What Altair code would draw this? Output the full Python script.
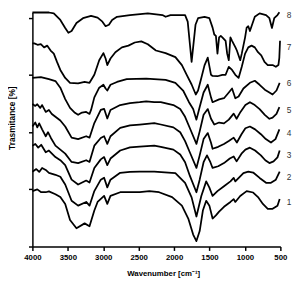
import altair as alt
import pandas as pd

# Wavenumbers (cm-1) and offset transmittance values
wn8 = [4000, 3767, 3698, 3606, 3537, 3492, 3447, 3378, 3286, 3172, 3080, 3012, 2967, 2920, 2875, 2806, 2623, 2371, 2165, 2120, 2051, 1845, 1808, 1777, 1753, 1731, 1698, 1662, 1571, 1502, 1457, 1433, 1410, 1388, 1365, 1341, 1319, 1273, 1251, 1228, 1205, 1182, 1136, 1114, 1067, 1045, 998, 976, 953, 930, 907, 861, 793, 702, 655, 619, 587, 541, 514]
t8 = [8.19, 8.19, 8.16, 7.93, 7.65, 7.48, 7.54, 7.82, 7.99, 8.07, 8.01, 7.87, 7.71, 7.76, 7.93, 8.04, 8.10, 8.16, 8.10, 8.04, 8.10, 8.10, 7.87, 7.08, 6.46, 6.98, 7.76, 7.99, 8.04, 7.99, 7.66, 7.42, 7.37, 6.75, 7.32, 7.37, 7.32, 7.20, 6.75, 6.52, 7.32, 7.20, 6.98, 6.86, 6.52, 6.75, 7.32, 7.66, 7.71, 7.54, 7.71, 8.04, 8.16, 8.10, 7.99, 7.65, 7.99, 8.10, 8.20]

wn7 = [4000, 3973, 3927, 3881, 3835, 3790, 3743, 3698, 3653, 3606, 3537, 3469, 3355, 3263, 3194, 3126, 3057, 2998, 2967, 2943, 2898, 2829, 2737, 2645, 2555, 2463, 2371, 2257, 2120, 1982, 1890, 1822, 1753, 1694, 1662, 1616, 1571, 1525, 1479, 1457, 1388, 1319, 1273, 1228, 1182, 1136, 1090, 1045, 998, 953, 907, 861, 816, 770, 724, 678, 610, 564, 528, 515, 505]
t7 = [7.11, 7.11, 7.06, 7.08, 6.97, 7.03, 6.86, 6.75, 6.46, 6.18, 5.90, 5.73, 5.71, 5.76, 5.73, 6.01, 6.52, 6.77, 6.58, 6.35, 6.58, 6.80, 6.97, 7.03, 7.14, 7.18, 7.08, 6.86, 6.77, 6.63, 6.35, 6.01, 5.67, 5.32, 5.46, 5.90, 6.34, 6.61, 6.01, 5.97, 5.96, 6.01, 6.01, 6.29, 6.18, 6.01, 5.90, 6.29, 6.75, 6.97, 7.03, 6.97, 6.80, 6.69, 6.46, 6.35, 6.35, 6.29, 6.35, 6.60, 7.20]

wn6 = [4000, 3881, 3767, 3675, 3606, 3537, 3469, 3400, 3355, 3300, 3241, 3194, 3172, 3126, 3057, 2998, 2967, 2943, 2898, 2806, 2669, 2394, 2120, 1982, 1873, 1790, 1731, 1685, 1639, 1584, 1525, 1479, 1457, 1365, 1296, 1228, 1182, 1136, 1090, 1022, 930, 861, 793, 720, 655, 610, 555, 510]
t6 = [5.90, 5.93, 5.86, 5.79, 5.56, 5.16, 4.85, 4.68, 4.61, 4.69, 4.71, 4.64, 4.78, 5.22, 5.56, 5.66, 5.53, 5.46, 5.66, 5.76, 5.86, 5.88, 5.83, 5.73, 5.46, 5.05, 4.81, 4.44, 4.88, 5.39, 5.66, 5.22, 5.05, 5.15, 5.19, 5.39, 5.53, 5.19, 5.25, 5.53, 5.73, 5.80, 5.66, 5.49, 5.39, 5.32, 5.46, 5.73]

wn5 = [4000, 3959, 3931, 3890, 3863, 3812, 3767, 3726, 3675, 3606, 3537, 3447, 3355, 3241, 3194, 3126, 3035, 2988, 2943, 2898, 2761, 2623, 2486, 2394, 2280, 2188, 2010, 1914, 1845, 1777, 1685, 1639, 1584, 1525, 1479, 1433, 1365, 1296, 1228, 1159, 1118, 1063, 994, 930, 861, 793, 720, 655, 610, 555, 514]
t5 = [4.99, 4.92, 4.98, 4.85, 4.95, 4.71, 4.78, 4.64, 4.54, 4.41, 4.20, 3.81, 3.76, 3.86, 3.81, 4.32, 4.78, 4.82, 4.48, 4.78, 4.95, 5.02, 5.05, 5.08, 5.05, 5.05, 4.95, 4.81, 4.54, 4.14, 3.59, 4.03, 4.61, 4.81, 4.47, 4.27, 4.34, 4.31, 4.44, 4.65, 4.47, 4.71, 4.95, 5.05, 4.95, 4.81, 4.61, 4.47, 4.51, 4.64, 4.88]

wn4 = [4000, 3959, 3931, 3904, 3863, 3812, 3780, 3739, 3675, 3606, 3537, 3447, 3355, 3241, 3194, 3126, 3035, 2988, 2943, 2898, 2761, 2623, 2486, 2280, 2188, 2010, 1914, 1845, 1777, 1685, 1639, 1584, 1525, 1479, 1457, 1378, 1296, 1228, 1159, 1114, 1049, 994, 930, 857, 775, 706, 633, 569, 514]
t4 = [4.20, 4.34, 4.17, 4.31, 4.10, 3.86, 4.00, 3.80, 3.53, 3.39, 3.25, 2.96, 2.92, 3.02, 2.96, 3.53, 3.80, 3.86, 3.59, 3.86, 4.15, 4.24, 4.27, 4.32, 4.27, 4.17, 4.00, 3.69, 3.29, 2.75, 3.19, 3.76, 3.97, 3.63, 3.42, 3.49, 3.59, 3.69, 3.81, 3.64, 3.93, 4.14, 4.20, 4.10, 3.93, 3.76, 3.64, 3.76, 4.10]

wn3 = [4000, 3959, 3918, 3876, 3812, 3767, 3675, 3606, 3537, 3447, 3355, 3241, 3194, 3126, 3035, 2988, 2943, 2898, 2761, 2623, 2486, 2280, 2188, 2010, 1914, 1845, 1777, 1685, 1639, 1584, 1536, 1488, 1457, 1378, 1296, 1214, 1159, 1118, 1049, 994, 930, 857, 775, 713, 655, 596, 541, 510]
t3 = [3.53, 3.59, 3.46, 3.56, 3.30, 3.36, 3.13, 3.02, 2.85, 2.34, 2.17, 2.31, 2.24, 2.75, 3.05, 3.13, 2.85, 3.08, 3.36, 3.47, 3.50, 3.53, 3.49, 3.39, 3.22, 2.95, 2.47, 1.90, 2.34, 2.95, 3.19, 2.95, 2.75, 2.81, 2.92, 3.08, 3.15, 2.98, 3.25, 3.39, 3.46, 3.36, 3.19, 3.02, 2.92, 2.98, 3.12, 3.36]

wn2 = [4000, 3945, 3904, 3863, 3812, 3767, 3675, 3606, 3537, 3447, 3355, 3241, 3194, 3126, 3035, 2988, 2943, 2898, 2761, 2623, 2486, 2280, 1982, 1845, 1753, 1685, 1616, 1547, 1502, 1457, 1388, 1296, 1205, 1159, 1136, 1022, 953, 884, 793, 702, 633, 564, 510]
t2 = [2.62, 2.71, 2.61, 2.75, 2.68, 2.58, 2.51, 2.44, 2.17, 1.60, 1.43, 1.56, 1.43, 1.94, 2.34, 2.41, 2.07, 2.34, 2.58, 2.61, 2.62, 2.62, 2.57, 2.23, 1.72, 1.05, 1.77, 2.28, 2.06, 1.77, 1.94, 2.11, 2.28, 2.40, 2.28, 2.57, 2.62, 2.59, 2.40, 2.23, 2.23, 2.34, 2.62]

wn1 = [4000, 3931, 3876, 3812, 3767, 3675, 3606, 3537, 3469, 3378, 3263, 3194, 3126, 3080, 2988, 2943, 2898, 2761, 2623, 2486, 2349, 2212, 2028, 1890, 1800, 1731, 1685, 1639, 1594, 1547, 1502, 1457, 1410, 1365, 1296, 1205, 1159, 1136, 1067, 976, 884, 816, 747, 678, 610, 541, 510]
t1 = [1.94, 2.00, 1.90, 1.90, 1.93, 1.83, 1.73, 1.49, 0.93, 0.64, 0.81, 0.71, 1.26, 1.56, 1.77, 1.49, 1.77, 1.90, 1.90, 1.90, 1.94, 1.90, 1.73, 1.43, 0.98, 0.42, 0.19, 0.54, 1.26, 1.60, 1.43, 0.98, 1.09, 1.22, 1.39, 1.56, 1.66, 1.56, 1.77, 1.94, 1.89, 1.73, 1.49, 1.32, 1.32, 1.43, 1.66]

label_names = ["8", "7", "6", "5", "4", "3", "2", "1"]
label_t = [8.10, 6.98, 5.71, 4.78, 3.97, 3.19, 2.42, 1.56]
x_ticks = [4000, 3500, 3000, 2500, 2000, 1500, 1000, 500]
y_ticks = [0, 1, 2, 3, 4, 5, 6, 7, 8]

series = {"8": (wn8, t8), "7": (wn7, t7), "6": (wn6, t6), "5": (wn5, t5),
          "4": (wn4, t4), "3": (wn3, t3), "2": (wn2, t2), "1": (wn1, t1)}
rows = []
for name, (w, t) in series.items():
    for i, (a, b) in enumerate(zip(w, t)):
        rows.append({"series": name, "wn": a, "t": b, "i": i})
df = pd.DataFrame(rows)
labels = pd.DataFrame({"name": label_names, "t": label_t})

FONT = "Liberation Sans"
W, H = 254, 240

xscale = alt.Scale(domain=[500, 4000], reverse=True, nice=False, zero=False)
yscale = alt.Scale(domain=[0, 8.2], nice=False, zero=False)

lines = alt.Chart(df).mark_line(color="black", strokeWidth=1.8, strokeJoin="round").encode(
    x=alt.X("wn:Q", scale=xscale,
            axis=alt.Axis(values=x_ticks, format="d", title="Wavenumber [cm⁻¹]",
                          labelFont=FONT, labelFontSize=8, labelFontWeight="bold",
                          labelColor="black", labelPadding=3, labelFlush=False,
                          tickSize=4, tickWidth=1.5, tickColor="black",
                          domainColor="black", domainWidth=1.5, grid=False,
                          titleFont=FONT, titleFontSize=8, titleFontWeight="bold",
                          titleColor="black", titleX=134, titleY=30,
                          titleBaseline="alphabetic")),
    y=alt.Y("t:Q", scale=yscale,
            axis=alt.Axis(values=y_ticks, labels=False, title="Trasmitance [%]",
                          tickSize=4, tickWidth=1.5, tickColor="black",
                          domainColor="black", domainWidth=1.5, grid=False,
                          titleFont=FONT, titleFontSize=8.5, titleFontWeight="bold",
                          titleColor="black", titleAngle=270, titleX=-21, titleY=108,
                          titleAlign="center", titleBaseline="middle")),
    detail="series:N",
    order="i:Q",
)

text = alt.Chart(labels).mark_text(font=FONT, fontSize=8.5, color="#333333",
                                   align="center", baseline="middle").encode(
    x=alt.value(W + 9),
    y=alt.Y("t:Q", scale=yscale),
    text="name:N",
)

chart = alt.layer(lines, text).properties(
    width=W, height=H,
    autosize=alt.AutoSizeParams(type="none"),
    padding={"left": 25, "top": 1, "right": 16, "bottom": 32},
    background="white",
).configure_view(stroke=None)

chart.save("out.html", embed_options={"renderer": "svg", "actions": False})
